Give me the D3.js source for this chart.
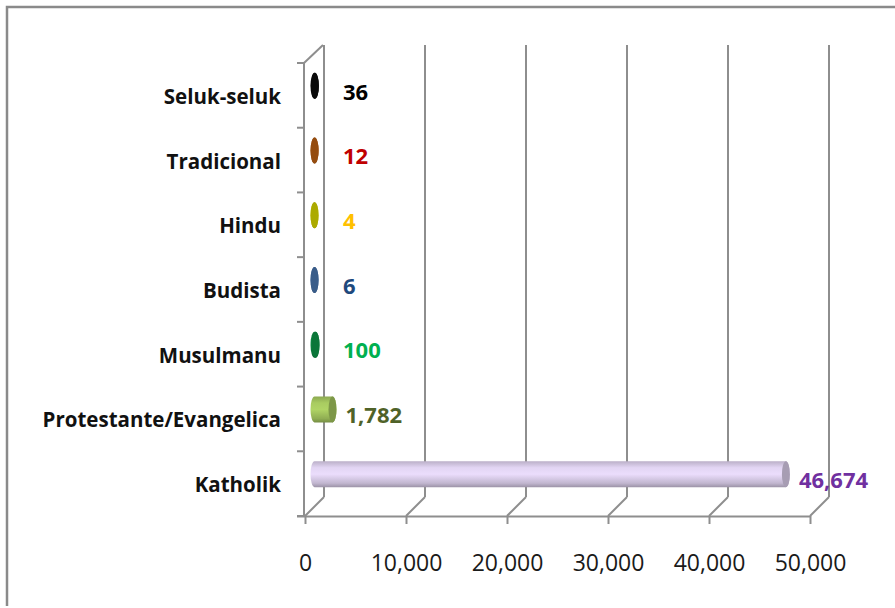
<!DOCTYPE html>
<html>
<head>
<meta charset="utf-8">
<script src="https://cdn.jsdelivr.net/npm/d3@7"></script>
<style>
  body { margin: 0; background: #fff; }
  svg { display: block; }
</style>
</head>
<body>
<svg id="chart"></svg>
<script>
// religion data, bottom to top as drawn
var categories = ["Katholik", "Protestante/Evangelica", "Musulmanu", "Budista", "Hindu", "Tradicional", "Seluk-seluk"]
var values = [46674, 1782, 100, 6, 4, 12, 36]
var barColors = ["#cfc3de", "#9bbb59", "#0b7a3b", "#3b5f8e", "#b2b000", "#9a4f10", "#0a0a0a"]
var labelColors = ["#7030a0", "#4f6228", "#00b050", "#1f497d", "#ffc000", "#c00000", "#000000"]
var xTicks = [0, 10000, 20000, 30000, 40000, 50000]

var dimensions = {
    width: 895,
    height: 608,
    front: { left: 305, right: 810, top: 63, bottom: 516 },
    depth: 19
}
var grid = "#8e8e8e"

var svg = d3.select("#chart")
            .attr("width", dimensions.width)
            .attr("height", dimensions.height)

// chart area border (top + left only visible)
svg.append("path")
   .attr("d", "M7,606 L7,7 L895,7")
   .style("fill", "none")
   .style("stroke", "#8a8a8a")
   .style("stroke-width", 2.5)

var xScale = d3.scaleLinear()
               .domain([0, 50000])
               .range([dimensions.front.left, dimensions.front.right])

var yScale = d3.scaleBand()
               .domain(categories)
               .range([dimensions.front.bottom, dimensions.front.top])

var d = dimensions.depth

// back wall gridlines
svg.selectAll(".grid")
   .data(xTicks)
   .enter()
   .append("line")
   .attr("x1", v => xScale(v) + d)
   .attr("x2", v => xScale(v) + d)
   .attr("y1", dimensions.front.top - d + 1)
   .attr("y2", dimensions.front.bottom - d)
   .style("stroke", grid)
   .style("stroke-width", 2)

// floor diagonals
svg.selectAll(".floor")
   .data(xTicks)
   .enter()
   .append("line")
   .attr("x1", v => xScale(v))
   .attr("x2", v => xScale(v) + d)
   .attr("y1", dimensions.front.bottom)
   .attr("y2", dimensions.front.bottom - d)
   .style("stroke", grid)
   .style("stroke-width", 2)

// left wall top edge + front vertical axis
svg.append("path")
   .attr("d", `M${dimensions.front.left - 1},${dimensions.front.top} L${dimensions.front.left + d - 1},${dimensions.front.top - d + 1}`)
   .style("fill", "none")
   .style("stroke", grid)
   .style("stroke-width", 2)

svg.append("line")
   .attr("x1", dimensions.front.left - 1)
   .attr("x2", dimensions.front.left - 1)
   .attr("y1", dimensions.front.top)
   .attr("y2", dimensions.front.bottom)
   .style("stroke", grid)
   .style("stroke-width", 2)

// category boundary ticks
var bounds = categories.map(c => yScale(c)).concat([dimensions.front.bottom])
svg.selectAll(".ytick")
   .data(bounds)
   .enter()
   .append("line")
   .attr("x1", dimensions.front.left - 8)
   .attr("x2", dimensions.front.left - 1)
   .attr("y1", v => v)
   .attr("y2", v => v)
   .style("stroke", grid)
   .style("stroke-width", 2)

// bottom axis
var xAxisgen = d3.axisBottom(xScale)
                 .tickValues(xTicks)
                 .tickFormat(d3.format(","))
                 .tickSize(8)
                 .tickSizeOuter(0)
                 .tickPadding(31)

var xAxis = svg.append("g")
               .attr("transform", `translate(0,${dimensions.front.bottom})`)
               .call(xAxisgen)
xAxis.select(".domain")
     .attr("d", `M${dimensions.front.left - 8},0.5 H${dimensions.front.right}`)
     .style("stroke", grid)
     .style("stroke-width", 2)
xAxis.selectAll(".tick line").style("stroke", grid).style("stroke-width", 2)
xAxis.selectAll(".tick text")
     .style("font-family", "'Open Sans', sans-serif")
     .style("font-size", "23px")
     .style("fill", "#1a1a1a")

// category labels
var yAxisgen = d3.axisLeft(yScale).tickSize(0).tickPadding(23)
var yAxis = svg.append("g")
               .attr("transform", `translate(${dimensions.front.left - 1},2)`)
               .call(yAxisgen)
yAxis.select(".domain").remove()
yAxis.selectAll(".tick text")
     .style("font-family", "'Open Sans', sans-serif")
     .style("font-weight", "bold")
     .style("font-size", "20.5px")
     .style("fill", "#111")

// cylinders
var defs = svg.append("defs")
var rx = 4, ry = 13
var dataset = categories.map((c, i) => ({ cat: c, value: values[i], color: barColors[i], label: labelColors[i] }))

dataset.forEach((row, i) => {
    var g = defs.append("linearGradient")
              .attr("id", "grad" + i)
              .attr("x1", 0).attr("y1", 0).attr("x2", 0).attr("y2", 1)
    var base = d3.color(row.color)
    g.append("stop").attr("offset", "0%").attr("stop-color", base.darker(0.3))
    g.append("stop").attr("offset", "25%").attr("stop-color", base.brighter(0.25))
    g.append("stop").attr("offset", "50%").attr("stop-color", base.brighter(0.35))
    g.append("stop").attr("offset", "85%").attr("stop-color", base.darker(0.2))
    g.append("stop").attr("offset", "100%").attr("stop-color", base.darker(0.8))
})

var bars = svg.selectAll(".bar")
              .data(dataset)
              .enter()
              .append("g")
              .attr("class", "bar")

var cy = row => yScale(row.cat) + yScale.bandwidth() / 2 - d / 2
var x0 = xScale(0) + d / 2
var x1 = row => xScale(row.value) + d / 2

bars.append("path")
    .attr("d", row => {
        var y = cy(row), a = x0, b = x1(row)
        return `M${b},${y - ry} L${a},${y - ry} A${rx},${ry} 0 0 0 ${a},${y + ry} L${b},${y + ry} A${rx},${ry} 0 0 0 ${b},${y - ry} Z`
    })
    .style("fill", (row, i) => `url(#grad${i})`)

bars.append("ellipse")
    .attr("cx", row => x1(row))
    .attr("cy", row => cy(row))
    .attr("rx", rx)
    .attr("ry", ry)
    .style("fill", row => d3.color(row.color).darker(row.value > 1000 ? 0.6 : 0.1))

// value labels
bars.append("text")
    .attr("x", row => Math.max(x1(row) + rx + 9, xScale(0) + 38))
    .attr("y", row => cy(row) + 6)
    .attr("dy", "0.35em")
    .text(row => d3.format(",")(row.value))
    .style("font-family", "'Open Sans', sans-serif")
    .style("font-weight", "bold")
    .style("font-size", "22px")
    .style("fill", row => row.label)
</script>
</body>
</html>
